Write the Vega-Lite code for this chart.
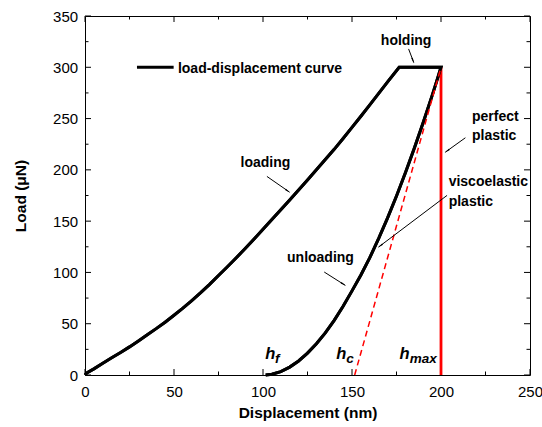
{
  "$schema": "https://vega.github.io/schema/vega-lite/v6.json",
  "width": 445,
  "height": 359,
  "autosize": {"type": "none"},
  "padding": {"left": 85, "top": 16, "right": 12, "bottom": 52},
  "config": {
    "font": "Liberation Sans",
    "view": {"stroke": "#000", "strokeWidth": 1},
    "axis": {
      "grid": false,
      "domain": false,
      "ticks": false,
      "labelColor": "#000",
      "titleColor": "#000",
      "labelFont": "Liberation Sans",
      "titleFont": "Liberation Sans",
      "labelFlush": false,
      "labelOverlap": false
    }
  },
  "datasets": {
    "curve": [
      {"x": 0, "y": 0, "o": 1}, {"x": 1, "y": 2, "o": 2}, {"x": 5, "y": 6, "o": 3}, {"x": 10, "y": 11.5, "o": 4},
      {"x": 15, "y": 16.8, "o": 5}, {"x": 20, "y": 22, "o": 6}, {"x": 25, "y": 27.4, "o": 7}, {"x": 30, "y": 33.2, "o": 8},
      {"x": 35, "y": 39.2, "o": 9}, {"x": 40, "y": 45.2, "o": 10}, {"x": 45, "y": 51.5, "o": 11}, {"x": 50, "y": 58.2, "o": 12},
      {"x": 55, "y": 65.2, "o": 13}, {"x": 60, "y": 72.6, "o": 14}, {"x": 65, "y": 80.3, "o": 15}, {"x": 70, "y": 88.4, "o": 16},
      {"x": 75, "y": 97, "o": 17}, {"x": 80, "y": 105.5, "o": 18}, {"x": 85, "y": 114.3, "o": 19}, {"x": 90, "y": 123.3, "o": 20},
      {"x": 95, "y": 132.6, "o": 21}, {"x": 100, "y": 142, "o": 22}, {"x": 105, "y": 151.5, "o": 23}, {"x": 110, "y": 161, "o": 24},
      {"x": 115, "y": 170.6, "o": 25}, {"x": 120, "y": 180.4, "o": 26}, {"x": 125, "y": 190.2, "o": 27}, {"x": 130, "y": 200, "o": 28},
      {"x": 135, "y": 210, "o": 29}, {"x": 140, "y": 220, "o": 30}, {"x": 145, "y": 230.6, "o": 31}, {"x": 150, "y": 241.4, "o": 32},
      {"x": 155, "y": 252.3, "o": 33}, {"x": 160, "y": 263.3, "o": 34}, {"x": 165, "y": 274.5, "o": 35}, {"x": 170, "y": 285.8, "o": 36},
      {"x": 176.5, "y": 300, "o": 37}, {"x": 200, "y": 300, "o": 38},
      {"x": 197.5, "y": 286, "o": 39}, {"x": 195, "y": 272.4, "o": 40}, {"x": 190, "y": 246.1, "o": 41}, {"x": 185, "y": 221, "o": 42},
      {"x": 180, "y": 197.2, "o": 43}, {"x": 175, "y": 174.5, "o": 44}, {"x": 170, "y": 153.2, "o": 45}, {"x": 165, "y": 133.2, "o": 46},
      {"x": 160, "y": 114.4, "o": 47}, {"x": 155, "y": 97.5, "o": 48}, {"x": 150, "y": 82, "o": 49}, {"x": 145, "y": 67, "o": 50},
      {"x": 140, "y": 53.3, "o": 51}, {"x": 135, "y": 41, "o": 52}, {"x": 130, "y": 30.5, "o": 53}, {"x": 125, "y": 21.3, "o": 54},
      {"x": 120, "y": 13.7, "o": 55}, {"x": 115, "y": 7.7, "o": 56}, {"x": 110, "y": 3.3, "o": 57}, {"x": 105, "y": 0.8, "o": 58},
      {"x": 101.5, "y": 0, "o": 59}
    ],
    "arrows": [
      {"x1": 181.8, "y1": 317.9, "x2": 184.7, "y2": 304.6, "hx": 184.1, "hy": 307.3, "ang": 159},
      {"x1": 213.7, "y1": 231.3, "x2": 202.4, "y2": 217.2, "hx": 203.8, "hy": 218.9, "ang": 234},
      {"x1": 203.4, "y1": 175.1, "x2": 164.9, "y2": 124.7, "hx": 166.3, "hy": 126.5, "ang": 233},
      {"x1": 102.2, "y1": 193.6, "x2": 114.9, "y2": 178.3, "hx": 113.5, "hy": 179.9, "ang": 125},
      {"x1": 134.4, "y1": 100.4, "x2": 146.2, "y2": 87.4, "hx": 144.8, "hy": 89, "ang": 122}
    ],
    "labelsLeft": [
      {"x": 52.2, "y": 298.4, "t": "load-displacement curve"},
      {"x": 217.4, "y": 252, "t": "perfect"},
      {"x": 217.4, "y": 233.4, "t": "plastic"},
      {"x": 204.3, "y": 188, "t": "viscoelastic"},
      {"x": 204.3, "y": 168.5, "t": "plastic"},
      {"x": 87.4, "y": 206.5, "t": "loading"},
      {"x": 113.5, "y": 114.4, "t": "unloading"}
    ],
    "labelsCenter": [
      {"x": 180.4, "y": 326, "t": "holding"}
    ],
    "hmain": [
      {"x": 101.3, "y": 15.9, "t": "h"},
      {"x": 141.2, "y": 15.9, "t": "h"},
      {"x": 176.7, "y": 15.9, "t": "h"}
    ],
    "hsub": [
      {"x": 106.8, "y": 11.5, "t": "f"},
      {"x": 146.8, "y": 11.5, "t": "c"},
      {"x": 182.5, "y": 11.5, "t": "max"}
    ],
    "xticks": [
      {"v": 0, "e": 0, "k": "maj", "s": "bottom"}, {"v": 50, "e": 0, "k": "maj", "s": "bottom"}, {"v": 100, "e": 0, "k": "maj", "s": "bottom"},
      {"v": 150, "e": 0, "k": "maj", "s": "bottom"}, {"v": 200, "e": 0, "k": "maj", "s": "bottom"}, {"v": 250, "e": 0, "k": "maj", "s": "bottom"},
      {"v": 25, "e": 0, "k": "min", "s": "bottom"}, {"v": 75, "e": 0, "k": "min", "s": "bottom"}, {"v": 125, "e": 0, "k": "min", "s": "bottom"},
      {"v": 175, "e": 0, "k": "min", "s": "bottom"}, {"v": 225, "e": 0, "k": "min", "s": "bottom"},
      {"v": 0, "e": 350, "k": "maj", "s": "top"}, {"v": 50, "e": 350, "k": "maj", "s": "top"}, {"v": 100, "e": 350, "k": "maj", "s": "top"},
      {"v": 150, "e": 350, "k": "maj", "s": "top"}, {"v": 200, "e": 350, "k": "maj", "s": "top"}, {"v": 250, "e": 350, "k": "maj", "s": "top"},
      {"v": 25, "e": 350, "k": "min", "s": "top"}, {"v": 75, "e": 350, "k": "min", "s": "top"}, {"v": 125, "e": 350, "k": "min", "s": "top"},
      {"v": 175, "e": 350, "k": "min", "s": "top"}, {"v": 225, "e": 350, "k": "min", "s": "top"}
    ],
    "yticks": [
      {"v": 0, "e": 0, "k": "maj", "s": "left"}, {"v": 50, "e": 0, "k": "maj", "s": "left"}, {"v": 100, "e": 0, "k": "maj", "s": "left"},
      {"v": 150, "e": 0, "k": "maj", "s": "left"}, {"v": 200, "e": 0, "k": "maj", "s": "left"}, {"v": 250, "e": 0, "k": "maj", "s": "left"},
      {"v": 300, "e": 0, "k": "maj", "s": "left"}, {"v": 350, "e": 0, "k": "maj", "s": "left"},
      {"v": 25, "e": 0, "k": "min", "s": "left"}, {"v": 75, "e": 0, "k": "min", "s": "left"}, {"v": 125, "e": 0, "k": "min", "s": "left"},
      {"v": 175, "e": 0, "k": "min", "s": "left"}, {"v": 225, "e": 0, "k": "min", "s": "left"}, {"v": 275, "e": 0, "k": "min", "s": "left"},
      {"v": 325, "e": 0, "k": "min", "s": "left"},
      {"v": 0, "e": 250, "k": "maj", "s": "right"}, {"v": 50, "e": 250, "k": "maj", "s": "right"}, {"v": 100, "e": 250, "k": "maj", "s": "right"},
      {"v": 150, "e": 250, "k": "maj", "s": "right"}, {"v": 200, "e": 250, "k": "maj", "s": "right"}, {"v": 250, "e": 250, "k": "maj", "s": "right"},
      {"v": 300, "e": 250, "k": "maj", "s": "right"}, {"v": 350, "e": 250, "k": "maj", "s": "right"},
      {"v": 25, "e": 250, "k": "min", "s": "right"}, {"v": 75, "e": 250, "k": "min", "s": "right"}, {"v": 125, "e": 250, "k": "min", "s": "right"},
      {"v": 175, "e": 250, "k": "min", "s": "right"}, {"v": 225, "e": 250, "k": "min", "s": "right"}, {"v": 275, "e": 250, "k": "min", "s": "right"},
      {"v": 325, "e": 250, "k": "min", "s": "right"}
    ]
  },
  "layer": [
    {
      "data": {"name": "curve"},
      "mark": {"type": "line", "color": "#000", "strokeWidth": 3, "strokeJoin": "miter", "strokeCap": "butt"},
      "encoding": {
        "x": {"field": "x", "type": "quantitative", "scale": {"domain": [0, 250], "nice": false, "zero": false},
          "axis": {"orient": "bottom", "values": [0, 50, 100, 150, 200, 250], "labelPadding": 9,
            "labelFontSize": 15, "title": "Displacement (nm)", "titleFontSize": 15.5, "titleFontWeight": "bold", "titlePadding": 6}},
        "y": {"field": "y", "type": "quantitative", "scale": {"domain": [0, 350], "nice": false, "zero": false},
          "axis": {"orient": "left", "values": [0, 50, 100, 150, 200, 250, 300, 350], "labelPadding": 7.4,
            "labelFontSize": 15, "title": "Load (μN)", "titleFontSize": 15.5, "titleFontWeight": "bold", "titlePadding": 24}},
        "order": {"field": "o", "type": "quantitative"}
      }
    },
    {
      "data": {"name": "xticks"},
      "mark": {"type": "point", "filled": false, "color": "#000", "strokeWidth": 1, "opacity": 1},
      "encoding": {
        "x": {"field": "v", "type": "quantitative"},
        "y": {"field": "e", "type": "quantitative"},
        "shape": {"field": "s", "type": "nominal", "scale": {"domain": ["bottom", "top"], "range": ["M0,0L0,-1", "M0,0L0,1"]}, "legend": null},
        "size": {"field": "k", "type": "nominal", "scale": {"domain": ["maj", "min"], "range": [144, 49]}, "legend": null}
      }
    },
    {
      "data": {"name": "yticks"},
      "mark": {"type": "point", "filled": false, "color": "#000", "strokeWidth": 1, "opacity": 1},
      "encoding": {
        "x": {"field": "e", "type": "quantitative"},
        "y": {"field": "v", "type": "quantitative"},
        "shape": {"field": "s", "type": "nominal", "scale": {"domain": ["left", "right"], "range": ["M0,0L1,0", "M0,0L-1,0"]}, "legend": null},
        "size": {"field": "k", "type": "nominal", "scale": {"domain": ["maj", "min"], "range": [144, 49]}, "legend": null}
      },
      "resolve": {"scale": {"shape": "independent"}}
    },
    {
      "data": {"values": [{"x": 200, "y1": 0, "y2": 300}]},
      "mark": {"type": "rule", "color": "#ff0000", "strokeWidth": 2.8},
      "encoding": {
        "x": {"field": "x", "type": "quantitative"},
        "y": {"field": "y1", "type": "quantitative"},
        "y2": {"field": "y2"}
      }
    },
    {
      "data": {"name": "curve"},
      "mark": {"type": "line", "color": "#000", "strokeWidth": 3, "strokeJoin": "miter", "strokeCap": "butt"},
      "encoding": {
        "x": {"field": "x", "type": "quantitative"},
        "y": {"field": "y", "type": "quantitative"},
        "order": {"field": "o", "type": "quantitative"}
      }
    },
    {
      "data": {"values": [{"x1": 151.5, "y1": 0, "x2": 200, "y2": 300}]},
      "mark": {"type": "rule", "color": "#ff0000", "strokeWidth": 1.5, "strokeDash": [6, 4]},
      "encoding": {
        "x": {"field": "x1", "type": "quantitative"},
        "y": {"field": "y1", "type": "quantitative"},
        "x2": {"field": "x2"},
        "y2": {"field": "y2"}
      }
    },
    {
      "data": {"values": [{"x1": 29.2, "x2": 49.8, "y": 300}]},
      "mark": {"type": "rule", "color": "#000", "strokeWidth": 3},
      "encoding": {
        "x": {"field": "x1", "type": "quantitative"},
        "x2": {"field": "x2"},
        "y": {"field": "y", "type": "quantitative"}
      }
    },
    {
      "data": {"name": "arrows"},
      "mark": {"type": "rule", "color": "#000", "strokeWidth": 1},
      "encoding": {
        "x": {"field": "x1", "type": "quantitative"},
        "y": {"field": "y1", "type": "quantitative"},
        "x2": {"field": "x2"},
        "y2": {"field": "y2"}
      }
    },
    {
      "data": {"name": "arrows"},
      "mark": {"type": "point", "shape": "wedge", "filled": true, "color": "#000", "opacity": 1, "size": 45},
      "encoding": {
        "x": {"field": "hx", "type": "quantitative"},
        "y": {"field": "hy", "type": "quantitative"},
        "angle": {"field": "ang", "type": "quantitative", "scale": null}
      }
    },
    {
      "data": {"name": "labelsLeft"},
      "mark": {"type": "text", "font": "Liberation Sans", "fontWeight": "bold", "fontSize": 14, "baseline": "middle", "align": "left", "color": "#000"},
      "encoding": {
        "x": {"field": "x", "type": "quantitative"},
        "y": {"field": "y", "type": "quantitative"},
        "text": {"field": "t"}
      }
    },
    {
      "data": {"name": "labelsCenter"},
      "mark": {"type": "text", "font": "Liberation Sans", "fontWeight": "bold", "fontSize": 14, "baseline": "middle", "align": "center", "color": "#000"},
      "encoding": {
        "x": {"field": "x", "type": "quantitative"},
        "y": {"field": "y", "type": "quantitative"},
        "text": {"field": "t"}
      }
    },
    {
      "data": {"name": "hmain"},
      "mark": {"type": "text", "font": "Liberation Sans", "fontWeight": "bold", "fontStyle": "italic", "fontSize": 16.5, "baseline": "alphabetic", "align": "left", "color": "#000"},
      "encoding": {
        "x": {"field": "x", "type": "quantitative"},
        "y": {"field": "y", "type": "quantitative"},
        "text": {"field": "t"}
      }
    },
    {
      "data": {"name": "hsub"},
      "mark": {"type": "text", "font": "Liberation Sans", "fontWeight": "bold", "fontStyle": "italic", "fontSize": 13.5, "baseline": "alphabetic", "align": "left", "color": "#000"},
      "encoding": {
        "x": {"field": "x", "type": "quantitative"},
        "y": {"field": "y", "type": "quantitative"},
        "text": {"field": "t"}
      }
    }
  ],
  "resolve": {"scale": {"shape": "independent"}}
}
